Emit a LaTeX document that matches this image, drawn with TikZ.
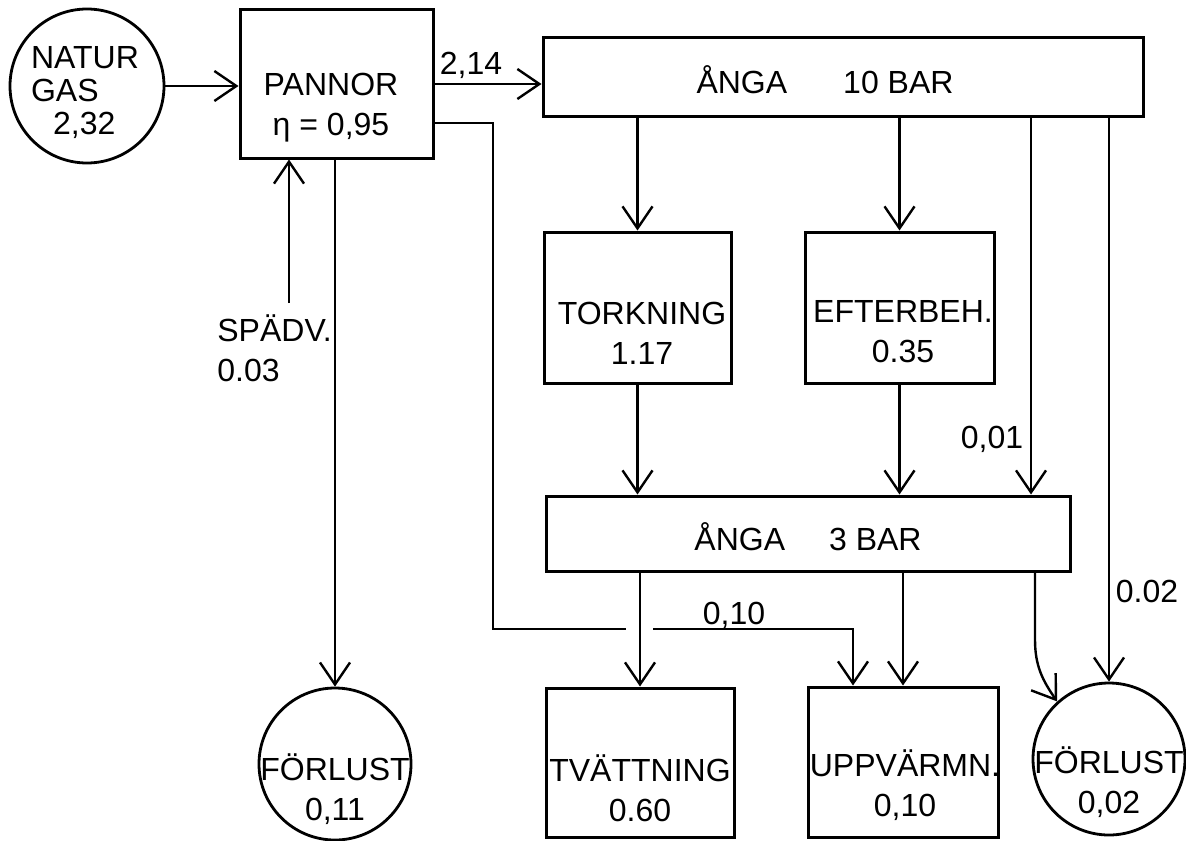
\documentclass[tikz,border=0pt]{standalone}
\usepackage{fontspec}
\setmainfont{Liberation Sans}
\usepackage{tikz}
\usetikzlibrary{arrows.meta}

\begin{document}
\begin{tikzpicture}[x=0.5pt,y=-0.5pt,
		font=\fontsize{16}{20}\selectfont,
		blok/.style={draw, line width=1.5pt, inner sep=0pt},
		ring/.style={draw, circle, line width=1.4pt, inner sep=0pt, minimum size=#1},
		flow/.style={line width=1.2pt, -{Straight Barb[length=11pt,width=15pt]}},
		lbl/.style={align=center, inner sep=0pt}]
			\useasboundingbox (0,0) rectangle (1186,840);
			% noder
			\node[ring=77pt] (gas) at (87,86) {};
			\node[lbl, align=left, font=\fontsize{16}{16.5}\selectfont] (gastxt) at (85,93) {NATUR\\GAS\\\hspace*{11pt}2,32};
			\node[blok, minimum width=96.5pt, minimum height=74pt] (pannor) at (336.5,84) {};
			\node[lbl] (pannortxt) at (331,108) {PANNOR\\η = 0,95};
			\node[blok, minimum width=300pt, minimum height=39pt] (anga10) at (843,77) {};
			\node[lbl, anchor=base] (anga10txt) at (825,93) {ÅNGA\hspace{28pt}10 BAR};
			\node[blok, minimum width=93.5pt, minimum height=75.5pt] (tork) at (637.5,307.5) {};
			\node[lbl] (torktxt) at (642,333) {TORKNING\\1.17};
			\node[blok, minimum width=94.5pt, minimum height=75.5pt] (efter) at (899.5,307.5) {};
			\node[lbl] (eftertxt) at (903,332) {EFTERBEH.\\0.35};
			\node[blok, minimum width=262pt, minimum height=37.5pt] (anga3) at (808,533.5) {};
			\node[lbl, anchor=base] (anga3txt) at (808,550) {ÅNGA\hspace{22pt}3 BAR};
			\node[blok, minimum width=94pt, minimum height=74.5pt] (tvatt) at (640,762.5) {};
			\node[lbl] (tvatttxt) at (640,788) {TVÄTTNING\\0.60};
			\node[blok, minimum width=95pt, minimum height=75pt] (uppv) at (903,762) {};
			\node[lbl] (uppvtxt) at (905,785) {UPPVÄRMN.\\0,10};
			\node[ring=76pt] (forl1) at (335,764) {};
			\node[lbl] (forl1txt) at (335,789) {FÖRLUST\\0,11};
			\node[ring=76pt] (forl2) at (1109,759) {};
			\node[lbl] (forl2txt) at (1109,782) {FÖRLUST\\0,02};
			% pilar
			\draw[flow] (gas) -- (gas -| pannor.west);
			\draw[flow] (pannor.east) -- (pannor.east -| anga10.west);
			\node[lbl, anchor=base] (n214) at (471,75) {2,14};
			\foreach \n in {tork,efter} {
				\draw[flow] (\n.north |- anga10.south) -- (\n.north);
				\draw[flow] (\n.south) -- (\n.south |- anga3.north);
			}
			\draw[flow] (1031,0 |- anga10.south) -- (1031,0 |- anga3.north);
			\node[lbl, anchor=base] (n001) at (992,448) {0,01};
			\draw[flow] (forl2.north |- anga10.south) -- (forl2.north);
			\node[lbl, anchor=base] (n002) at (1147,602) {0.02};
			\foreach \n in {tvatt,uppv} {
				\draw[flow] (\n.north |- anga3.south) -- (\n.north);
			}
			\draw[flow] (1035,0 |- anga3.south) -- (1035,640) to[out=-90,in=125] (forl2.132);
			% spädvatten
			\coordinate (spadv) at (289,303);
			\draw[flow] (spadv) -- (spadv |- pannor.south);
			\node[lbl, align=left, anchor=west] (spadvtxt) at (217,348) {SPÄDV.\\0.03};
			\draw[flow] (pannor.south -| forl1.north) -- (forl1.north);
			% ledning med avbrott
			\coordinate (gapL) at (626,629);
			\coordinate (gapR) at (653,629);
			\draw[line width=1.2pt] (pannor.east |- 0,123) -| (493,629) -- (gapL);
			\draw[flow] (gapR) -| (853,0 |- uppv.north);
			\node[lbl, anchor=base] (n010) at (734,624) {0,10};
		\end{tikzpicture}
\end{document}
